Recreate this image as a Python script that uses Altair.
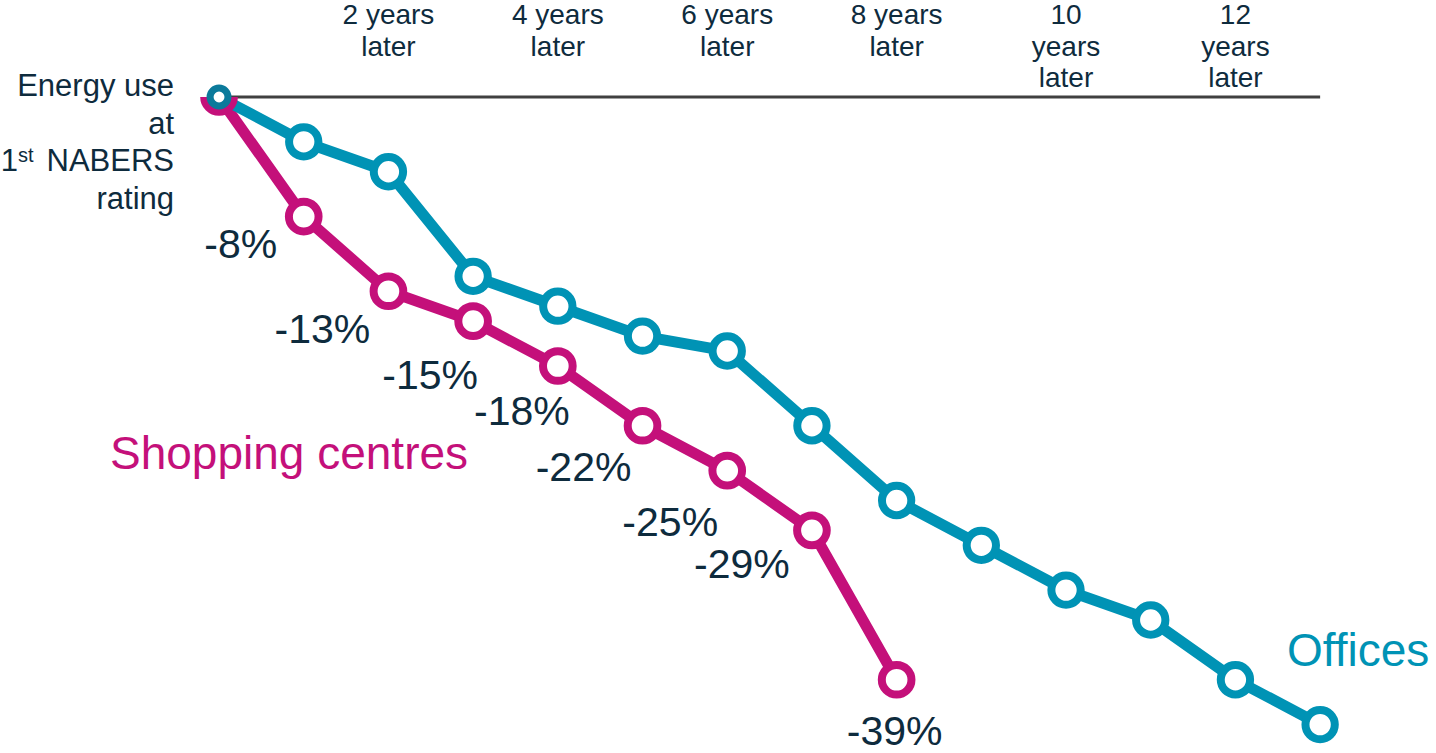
import altair as alt
import pandas as pd

# Change in energy use (%) since the first NABERS rating, by year after rating
office_years = list(range(14))
office_change = [0, -3, -5, -12, -14, -16, -17, -22, -27, -30, -33, -35, -39, -42]
shop_years = list(range(9))
shop_change = [0, -8, -13, -15, -18, -22, -25, -29, -39]

header_years = [2, 4, 6, 8, 10, 12]
header_text = [
    "2 years\nlater", "4 years\nlater", "6 years\nlater", "8 years\nlater",
    "10\nyears\nlater", "12\nyears\nlater",
]

TEAL = "#0093B5"
TEAL_DARK = "#0B7A9B"
MAGENTA = "#C4107A"
INK = "#0E2B3D"
RULE = "#404040"
FONT = "Liberation Sans"

offices = pd.DataFrame({"year": office_years, "change": office_change})
shops = pd.DataFrame({"year": shop_years, "change": shop_change})
shops["label"] = [f"{v}%" for v in shop_change]
headers = pd.DataFrame({"year": header_years, "text": header_text})
baseline = pd.DataFrame({"start": [0], "end": [13], "level": [0]})

x_scale = alt.Scale(domain=[-2.586, 14.368], nice=False, zero=False)
y_scale = alt.Scale(domain=[-43.9, 0], nice=False, zero=False)
X = alt.X("year:Q", scale=x_scale, axis=None)
Y = alt.Y("change:Q", scale=y_scale, axis=None)

rule = alt.Chart(baseline).mark_rule(color=RULE, strokeWidth=3).encode(
    x=alt.X("start:Q", scale=x_scale, axis=None),
    x2="end:Q",
    y=alt.Y("level:Q", scale=y_scale, axis=None),
)

shop_line = alt.Chart(shops).mark_line(
    color=MAGENTA, strokeWidth=11, clip=True
).encode(x=X, y=Y)
office_line = alt.Chart(offices).mark_line(color=TEAL, strokeWidth=11).encode(x=X, y=Y)

shop_pts = alt.Chart(shops).mark_circle(
    fill="white", fillOpacity=1, opacity=1, stroke=MAGENTA, strokeWidth=8,
    size=880, clip=True
).encode(x=X, y=Y)
office_pts = alt.Chart(offices).transform_filter(alt.datum.year > 0).mark_circle(
    fill="white", fillOpacity=1, opacity=1, stroke=TEAL, strokeWidth=8, size=860
).encode(x=X, y=Y)
office_start = alt.Chart(offices).transform_filter(alt.datum.year == 0).mark_circle(
    fill="white", fillOpacity=1, opacity=1, stroke=TEAL_DARK, strokeWidth=7, size=320
).encode(x=X, y=Y)

# value labels beside each shopping-centre point (offsets in pixels)
label_offsets = [(-63, 41), (-66, 52), (-43, 68), (-36, 59),
                 (-59, 55), (-57, 65), (-70, 48), (-2, 65)]
value_labels = []
for i, (dx, dy) in enumerate(label_offsets, start=1):
    value_labels.append(
        alt.Chart(shops).transform_filter(alt.datum.year == i).mark_text(
            font=FONT, fontSize=41, color=INK, align="center",
            baseline="alphabetic", dx=dx, dy=dy
        ).encode(x=X, y=Y, text="label:N")
    )

header = alt.Chart(headers).mark_text(
    font=FONT, fontSize=28, color=INK, align="center", baseline="alphabetic",
    lineBreak="\n", lineHeight=31.5
).encode(
    x=alt.X("year:Q", scale=x_scale, axis=None),
    y=alt.value(-73),
    text="text:N",
)


def note(text, x, y, size, align="right", color=INK):
    return alt.Chart(pd.DataFrame({"t": [text]})).mark_text(
        font=FONT, fontSize=size, color=color, align=align,
        baseline="alphabetic", lineBreak="\n", lineHeight=37.5
    ).encode(x=alt.value(x), y=alt.value(y), text="t:N")


start_note = [
    note("Energy use\nat", 174, -1, 31),
    note("1", 18, 74, 31),
    note("st", 18, 65, 20, align="left"),
    note("NABERS\nrating", 174, 74, 31),
]

series_names = [
    note("Shopping centres", 110, 372, 46, align="left", color=MAGENTA),
    note("Offices", 1287, 569, 46, align="left", color=TEAL),
]

chart = alt.layer(
    rule, shop_line, office_line, shop_pts, office_pts, office_start,
    *value_labels, header, *start_note, *series_names
).properties(
    width=1436,
    height=656,
    padding={"left": 0, "top": 97, "right": 0, "bottom": 0},
    autosize=alt.AutoSizeParams(type="none"),
    background="white",
).configure_view(stroke=None)

chart.save("out.html", embed_options={"renderer": "svg", "actions": False})
